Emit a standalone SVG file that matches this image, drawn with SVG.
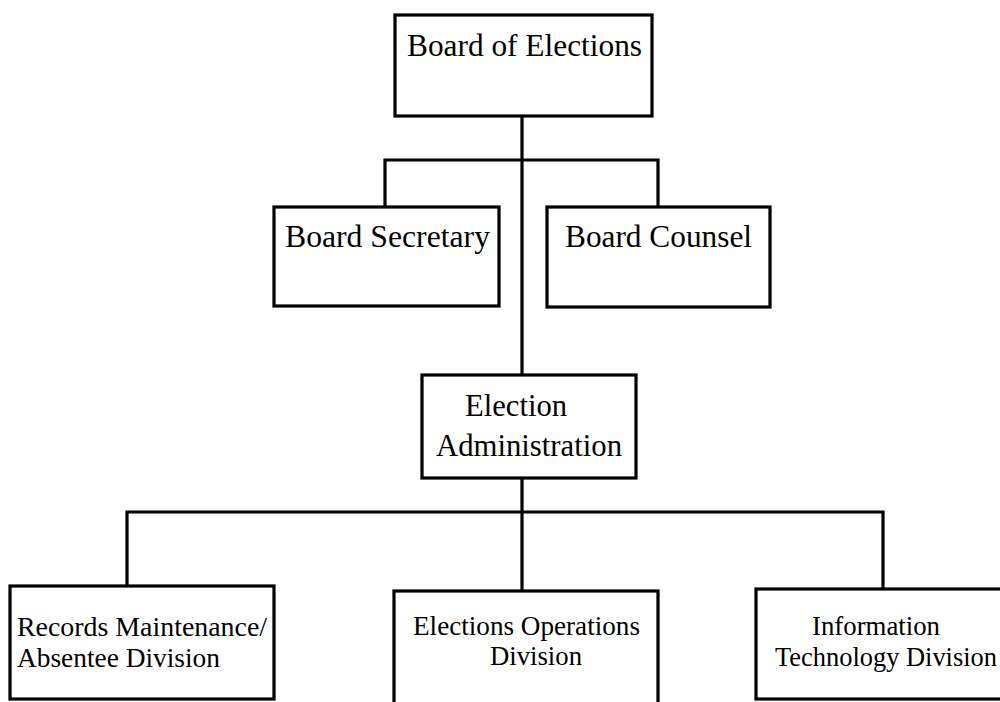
<svg xmlns="http://www.w3.org/2000/svg" width="1000" height="702" viewBox="0 0 1000 702">
<style>
.box{fill:#fff;stroke:#000;stroke-width:3.2}
.conn{fill:none;stroke:#000;stroke-width:3.2}
text{font-family:"Liberation Serif","Times New Roman",serif;fill:#000}
.t30{font-size:32px}
.t26{font-size:27px}
</style>
<rect width="1000" height="702" fill="#fff"/>
<g id="connectors" class="conn">
<line x1="522" y1="116" x2="522" y2="375"/>
<polyline points="385,207 385,160 658,160 658,207"/>
<line x1="522" y1="478" x2="522" y2="591"/>
<polyline points="127,586 127,512 883,512 883,589"/>
</g>
<g id="board-of-elections">
<rect class="box" x="395" y="15" width="257" height="101"/>
<text class="t30" x="407" y="56" textLength="235" lengthAdjust="spacingAndGlyphs">Board of Elections</text>
</g>
<g id="board-secretary">
<rect class="box" x="274" y="207" width="225" height="99"/>
<text class="t30" x="285" y="247" textLength="205" lengthAdjust="spacingAndGlyphs">Board Secretary</text>
</g>
<g id="board-counsel">
<rect class="box" x="547" y="207" width="223" height="100"/>
<text class="t30" x="565" y="247" textLength="187" lengthAdjust="spacingAndGlyphs">Board Counsel</text>
</g>
<g id="election-administration">
<rect class="box" x="422" y="375" width="214" height="103"/>
<text class="t30" x="465" y="416" textLength="102" lengthAdjust="spacingAndGlyphs">Election</text>
<text class="t30" x="436" y="456" textLength="186" lengthAdjust="spacingAndGlyphs">Administration</text>
</g>
<g id="records-maintenance">
<rect class="box" x="10" y="586" width="264" height="113"/>
<text class="t26" x="17" y="636" textLength="250" lengthAdjust="spacingAndGlyphs">Records Maintenance/</text>
<text class="t26" x="17" y="667" textLength="203" lengthAdjust="spacingAndGlyphs">Absentee Division</text>
</g>
<g id="elections-operations">
<rect class="box" x="394" y="591" width="264" height="130"/>
<text class="t26" x="413" y="635" textLength="227" lengthAdjust="spacingAndGlyphs">Elections Operations</text>
<text class="t26" x="490" y="665" textLength="92" lengthAdjust="spacingAndGlyphs">Division</text>
</g>
<g id="information-technology">
<rect class="box" x="756" y="589" width="260" height="110"/>
<text class="t26" x="812" y="635" textLength="128" lengthAdjust="spacingAndGlyphs">Information</text>
<text class="t26" x="775" y="666" textLength="222" lengthAdjust="spacingAndGlyphs">Technology Division</text>
</g>
</svg>
